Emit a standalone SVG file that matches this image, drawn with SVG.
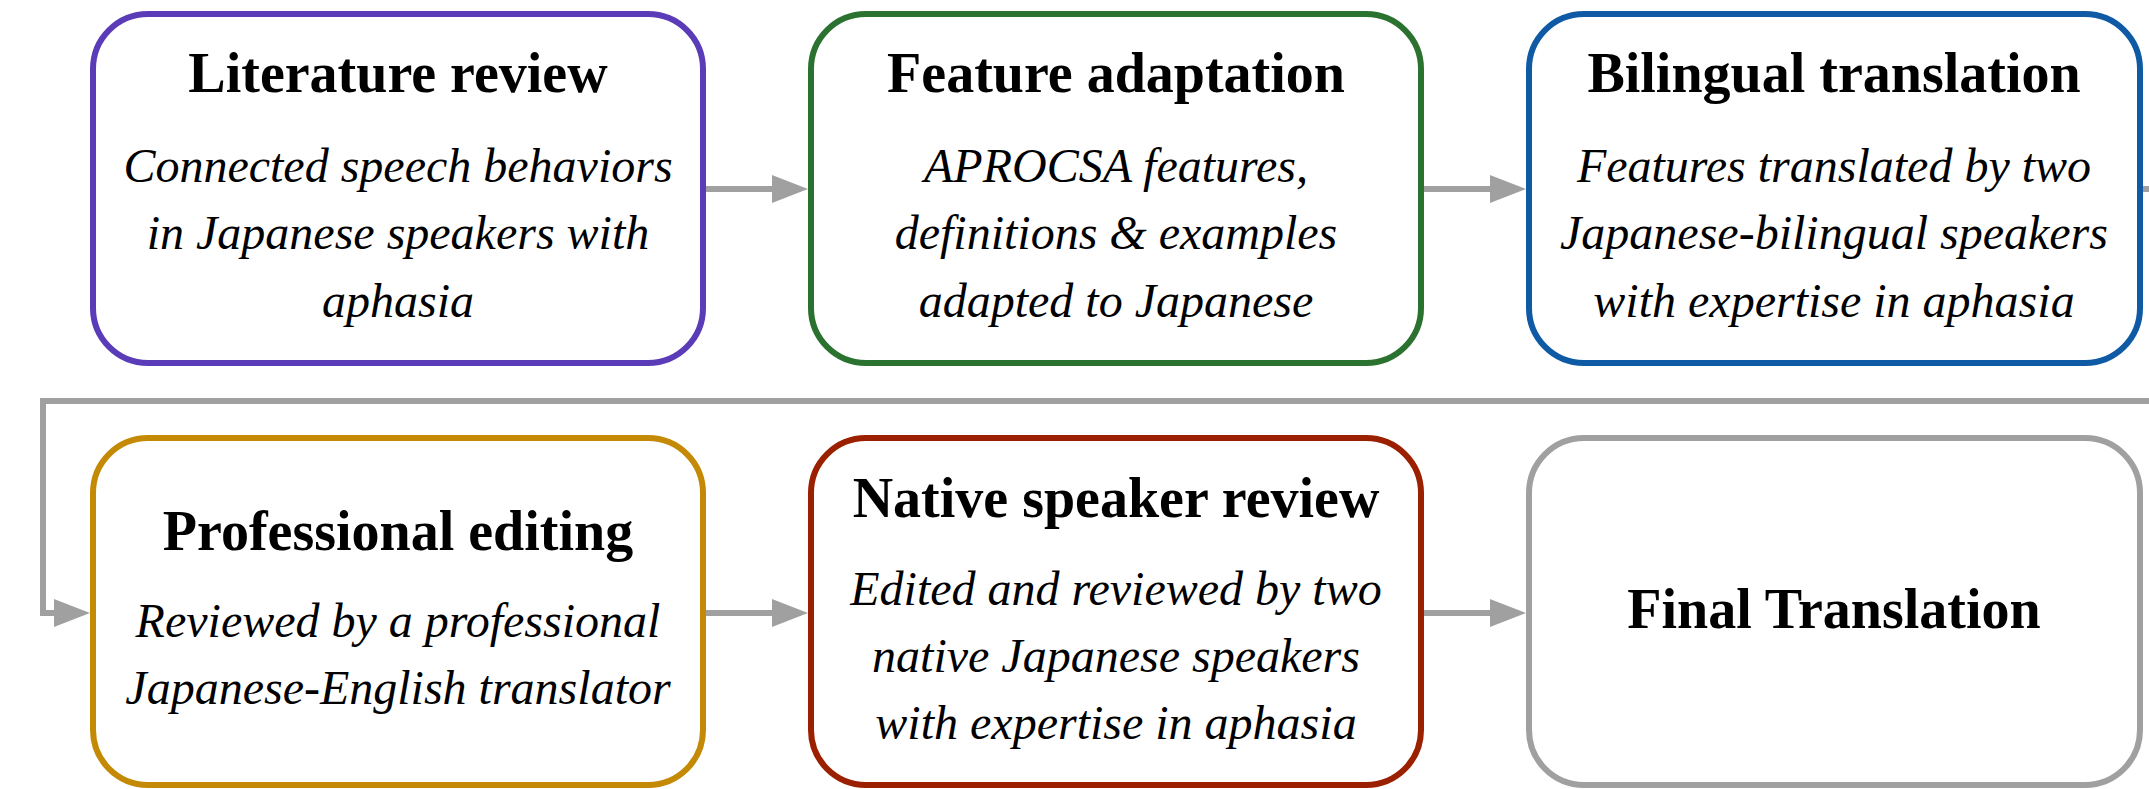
<svg xmlns="http://www.w3.org/2000/svg" width="2149" height="789" viewBox="0 0 2149 789">
<style>
.box{fill:#fff;stroke-width:6}
.t{font-family:"Liberation Serif","Times New Roman",serif;font-weight:bold;font-size:56px;fill:#000;text-anchor:middle}
.d{font-family:"Liberation Serif","Times New Roman",serif;font-style:italic;font-size:48px;fill:#000;text-anchor:middle}
.c{fill:none;stroke:#a0a0a0;stroke-width:6}
</style>
<defs>
<marker id="ah" markerUnits="userSpaceOnUse" markerWidth="40" markerHeight="32" viewBox="0 -16 40 32" refX="0" refY="0" orient="auto">
<path d="M0,-14 L36,0 L0,14 Z" fill="#a0a0a0"/>
</marker>
</defs>
<rect width="2149" height="789" fill="#fff"/>
<g id="connectors">
<path class="c" d="M703,189 H772" marker-end="url(#ah)"/>
<path class="c" d="M1421,189 H1490" marker-end="url(#ah)"/>
<path class="c" d="M2140,189 H2170 V401 H43 V613 H54" marker-end="url(#ah)"/>
<path class="c" d="M703,613 H772" marker-end="url(#ah)"/>
<path class="c" d="M1421,613 H1490" marker-end="url(#ah)"/>
</g>
<g id="literature-review">
<rect class="box" x="93" y="14" width="610" height="349" rx="55" stroke="#5b3cb8"/>
<text class="t" x="398" y="92">Literature review</text>
<text class="d" x="398" y="182">Connected speech behaviors</text>
<text class="d" x="398" y="249">in Japanese speakers with</text>
<text class="d" x="398" y="317">aphasia</text>
</g>
<g id="feature-adaptation">
<rect class="box" x="811" y="14" width="610" height="349" rx="55" stroke="#2b7230"/>
<text class="t" x="1116" y="92">Feature adaptation</text>
<text class="d" x="1116" y="182">APROCSA features,</text>
<text class="d" x="1116" y="249">definitions &amp; examples</text>
<text class="d" x="1116" y="317">adapted to Japanese</text>
</g>
<g id="bilingual-translation">
<rect class="box" x="1529" y="14" width="611" height="349" rx="55" stroke="#0f5aa5"/>
<text class="t" x="1834" y="92">Bilingual translation</text>
<text class="d" x="1834" y="182">Features translated by two</text>
<text class="d" x="1834" y="249">Japanese-bilingual speakers</text>
<text class="d" x="1834" y="317">with expertise in aphasia</text>
</g>
<g id="professional-editing">
<rect class="box" x="93" y="438" width="610" height="347" rx="55" stroke="#c48a06"/>
<text class="t" x="398" y="550">Professional editing</text>
<text class="d" x="398" y="637">Reviewed by a professional</text>
<text class="d" x="398" y="704">Japanese-English translator</text>
</g>
<g id="native-speaker-review">
<rect class="box" x="811" y="438" width="610" height="347" rx="55" stroke="#9a2000"/>
<text class="t" x="1116" y="517">Native speaker review</text>
<text class="d" x="1116" y="605">Edited and reviewed by two</text>
<text class="d" x="1116" y="672">native Japanese speakers</text>
<text class="d" x="1116" y="739">with expertise in aphasia</text>
</g>
<g id="final-translation">
<rect class="box" x="1529" y="438" width="611" height="347" rx="55" stroke="#a0a0a0"/>
<text class="t" x="1834" y="628">Final Translation</text>
</g>
</svg>
